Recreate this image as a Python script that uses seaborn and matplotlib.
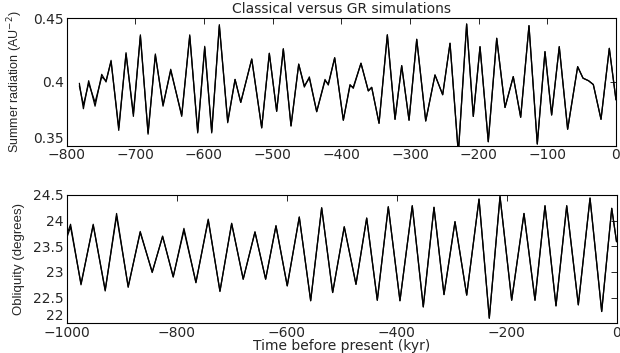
import numpy as np
import pandas as pd
import seaborn as sns
import matplotlib
matplotlib.use("Agg")
import matplotlib.pyplot as plt

# Summer radiation extrema (kyr, AU^-2)
rad_time = [-781.6, -775.7, -768.0, -758.7, -749.0, -742.7, -735.4, -724.2, -713.6, -702.9,
            -692.7, -681.5, -670.9, -659.7, -648.5, -632.5, -620.8, -609.2, -599.0, -588.8,
            -577.7, -565.5, -554.8, -546.5, -530.5, -516.0, -504.9, -494.2, -484.5, -473.3,
            -462.1, -453.9, -446.6, -435.9, -423.8, -419.0, -409.7, -397.1, -387.4, -382.6,
            -371.4, -360.7, -355.8, -345.1, -333.0, -321.8, -312.1, -301.4, -290.2, -277.1,
            -263.6, -252.4, -241.7, -229.6, -217.5, -207.8, -198.0, -186.0, -173.7, -161.6,
            -149.6, -138.8, -126.7, -114.6, -103.4, -93.7, -82.6, -70.4, -55.8, -48.0,
            -40.0, -33.0, -21.8, -9.7, 0.0]
rad_classical = [0.399, 0.379, 0.401, 0.381, 0.406, 0.400, 0.417, 0.362, 0.423, 0.373,
                 0.437, 0.359, 0.422, 0.381, 0.410, 0.373, 0.437, 0.360, 0.428, 0.360,
                 0.445, 0.368, 0.402, 0.384, 0.418, 0.364, 0.4225, 0.377, 0.426, 0.3655,
                 0.414, 0.396, 0.404, 0.3767, 0.402, 0.3976, 0.419, 0.370, 0.398, 0.395,
                 0.4147, 0.393, 0.3958, 0.3676, 0.437, 0.3707, 0.4128, 0.370, 0.4335, 0.3694,
                 0.4055, 0.390, 0.4304, 0.344, 0.4455, 0.373, 0.4277, 0.3531, 0.4343, 0.380,
                 0.4042, 0.3723, 0.4442, 0.3513, 0.4238, 0.3741, 0.4277, 0.3629, 0.412, 0.403,
                 0.401, 0.398, 0.3707, 0.4264, 0.386]
rad_gr = [0.397, 0.382, 0.399, 0.384, 0.404, 0.401, 0.416, 0.364, 0.422, 0.375,
          0.436, 0.360, 0.421, 0.382, 0.409, 0.374, 0.436, 0.361, 0.427, 0.361,
          0.444, 0.369, 0.402, 0.384, 0.418, 0.364, 0.4225, 0.377, 0.426, 0.3655,
          0.414, 0.397, 0.403, 0.3767, 0.401, 0.3985, 0.419, 0.370, 0.397, 0.396,
          0.4147, 0.393, 0.3958, 0.3676, 0.437, 0.3707, 0.4128, 0.370, 0.4335, 0.3694,
          0.4055, 0.390, 0.4304, 0.344, 0.4455, 0.373, 0.4277, 0.3531, 0.4343, 0.380,
          0.4042, 0.3723, 0.4442, 0.3513, 0.4238, 0.3741, 0.4277, 0.3629, 0.412, 0.403,
          0.401, 0.398, 0.3707, 0.4264, 0.386]

# Obliquity extrema (kyr, degrees)
obl_time = [-1000.0, -993.0, -974.0, -951.8, -930.0, -909.3, -888.2, -866.3, -844.5, -825.6,
            -806.3, -786.8, -765.0, -742.6, -721.3, -700.0, -679.0, -657.6, -638.2, -619.4,
            -598.9, -577.0, -556.3, -536.3, -516.3, -495.2, -473.9, -454.4, -435.1, -415.1,
            -393.9, -371.5, -351.5, -332.0, -313.8, -293.8, -272.5, -250.1, -231.4, -211.9,
            -190.7, -168.3, -148.3, -130.1, -110.1, -90.6, -69.5, -48.2, -27.0, -8.7, 0.0]
obl_classical = [23.72, 23.93, 22.75, 23.93, 22.63, 24.14, 22.70, 23.79, 22.99, 23.70,
                 22.90, 23.85, 22.79, 24.03, 22.62, 23.95, 22.86, 23.78, 22.86, 23.90,
                 22.73, 24.07, 22.44, 24.25, 22.60, 23.88, 22.76, 24.05, 22.45, 24.27,
                 22.44, 24.29, 22.32, 24.26, 22.56, 23.98, 22.55, 24.42, 22.10, 24.47,
                 22.45, 24.14, 22.45, 24.29, 22.34, 24.29, 22.36, 24.44, 22.23, 24.24, 23.59]
obl_gr = [23.66, 23.88, 22.77, 23.91, 22.65, 24.09, 22.72, 23.77, 23.00, 23.69,
          22.91, 23.81, 22.80, 24.01, 22.63, 23.94, 22.86, 23.78, 22.86, 23.90,
          22.73, 24.07, 22.44, 24.25, 22.60, 23.88, 22.76, 24.05, 22.45, 24.27,
          22.44, 24.29, 22.32, 24.26, 22.56, 23.98, 22.55, 24.42, 22.10, 24.47,
          22.45, 24.14, 22.45, 24.29, 22.34, 24.29, 22.36, 24.44, 22.23, 24.24, 23.59]

sns.set_style("white")
plt.rcParams['font.family'] = ['DejaVu Sans']
plt.rcParams['axes.linewidth'] = 0.8

fig = plt.figure(figsize=(6.2, 3.53), dpi=100)
ax1 = fig.add_axes([0.1076, 0.5873, 0.8859, 0.3609])
ax2 = fig.add_axes([0.1076, 0.0841, 0.8868, 0.3635])

for t, v in [(rad_time, rad_classical), (rad_time, rad_gr)]:
    sns.lineplot(x=t, y=v, ax=ax1, color='black', linewidth=0.9, sort=False,
                 solid_joinstyle='round')
for t, v in [(obl_time, obl_classical), (obl_time, obl_gr)]:
    sns.lineplot(x=t, y=v, ax=ax2, color='black', linewidth=0.9, sort=False,
                 solid_joinstyle='round')

label_font = ['Liberation Sans', 'DejaVu Sans']

ax1.set_xlim(-800, 0)
ax1.set_ylim(0.35, 0.45)
ax1.set_xticks(np.arange(-800, 1, 100))
ax1.set_yticks([0.35, 0.4, 0.45])
ax1.set_yticklabels(['0.35', '0.4', '0.45'])
ax1.set_title('Classical versus GR simulations', fontsize=10, pad=4)
ax1.set_ylabel(r'Summer radiation (AU$^{-2}$)', fontsize=9, family=label_font)
ax1.yaxis.set_label_coords(-0.076, 0.5)

ax2.set_xlim(-1000, 0)
ax2.set_ylim(22, 24.5)
ax2.set_xticks(np.arange(-1000, 1, 200))
ax2.set_yticks([22, 22.5, 23, 23.5, 24, 24.5])
ax2.set_yticklabels(['22', '22.5', '23', '23.5', '24', '24.5'])
ax2.set_xlabel('Time before present (kyr)', fontsize=10, labelpad=-1)
ax2.set_ylabel('Obliquity (degrees)', fontsize=9.5, family=label_font)
ax2.yaxis.set_label_coords(-0.076, 0.5)

for ax in (ax1, ax2):
    ax.tick_params(direction='in', top=True, right=True, length=4, width=0.7,
                   labelsize=10, pad=2)
    for s in ax.spines.values():
        s.set_color('black')
    # lowest y label sits just above the frame corner, as in the original
    ax.get_yticklabels()[0].set_verticalalignment('bottom')

fig.savefig('out.png', dpi=100)
